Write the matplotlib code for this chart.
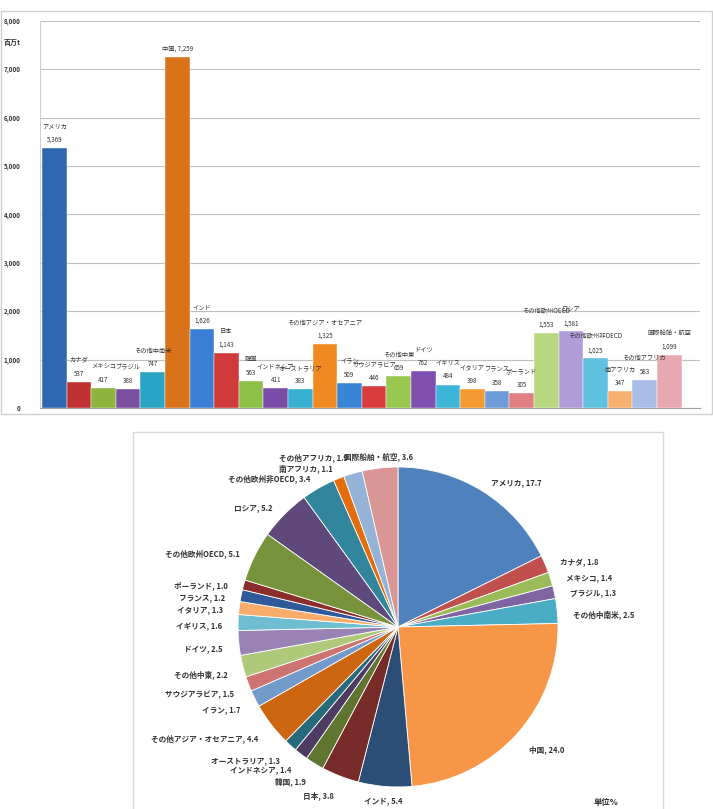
import numpy as np
import matplotlib
matplotlib.use('Agg')
import matplotlib.pyplot as plt
from matplotlib.patches import Rectangle

plt.rcParams['font.family'] = ['Noto Sans CJK JP', 'DejaVu Sans']

# データ（排出量：百万t、構成比：%）
countries = ['アメリカ', 'カナダ', 'メキシコ', 'ブラジル', 'その他中南米', '中国',
             'インド', '日本', '韓国', 'インドネシア', 'オーストラリア', 'その他アジア・オセアニア',
             'イラン', 'サウジアラビア', 'その他中東', 'ドイツ', 'イギリス', 'イタリア',
             'フランス', 'ポーランド', 'その他欧州OECD', 'ロシア', 'その他欧州非OECD',
             '南アフリカ', 'その他アフリカ', '国際船舶・航空']
emissions = [5369, 537, 417, 388, 747, 7259,
             1626, 1143, 563, 411, 383, 1325,
             509, 446, 659, 762, 484, 398,
             358, 305, 1553, 1581, 1025,
             347, 583, 1099]
shares = [17.7, 1.8, 1.4, 1.3, 2.5, 24.0,
          5.4, 3.8, 1.9, 1.4, 1.3, 4.4,
          1.7, 1.5, 2.2, 2.5, 1.6, 1.3,
          1.2, 1.0, 5.1, 5.2, 3.4,
          1.1, 1.9, 3.6]

bar_colors = ['#2f68b0', '#c03232', '#8db43c', '#7a4fa0', '#2aa5c5', '#d9731a',
              '#3a7fd5', '#d03a3a', '#8ec048', '#7a4ca8', '#36afd0', '#f08a20',
              '#3a86d6', '#d83c3c', '#98c850', '#8050b0', '#3db5d8', '#f39a30',
              '#6e9cda', '#e08080', '#b8d880', '#b09cd8', '#60c0e0',
              '#f8b070', '#a8bce8', '#e8a8b0']
pie_colors = ['#4f81bd', '#c0504d', '#9bbb59', '#8064a2', '#4bacc6', '#f79646',
              '#2c4d75', '#772c2a', '#5f7530', '#4d3b62', '#276a7c', '#cc6611',
              '#729aca', '#cd7371', '#afc97a', '#9983b5', '#6fbdd1', '#f9ab6b',
              '#2f5a9a', '#8b2d2a', '#77933c', '#5f497a', '#31859c',
              '#e46c0a', '#95b3d7', '#d99694']

W, H = 713, 809
fig = plt.figure(figsize=(W / 100, H / 100), dpi=100)

# 枠
fig.add_artist(Rectangle((0.001, 1 - 414 / H), 0.998, 403 / H, transform=fig.transFigure,
                         fill=False, edgecolor='#d0d0d0', lw=1))
fig.add_artist(Rectangle((133 / W, -0.01), 530 / W, 377 / H + 0.01, transform=fig.transFigure,
                         fill=False, edgecolor='#d9d9d9', lw=1))

# 棒グラフ
ax = fig.add_axes([40 / W, 1 - 408 / H, 660 / W, (408 - 20.7) / H])
x = np.arange(len(emissions))
bars = ax.bar(x, emissions, width=1.0, align='edge', color=bar_colors,
              edgecolor='white', linewidth=0.3, zorder=3)
ax.set_xlim(-0.08, 26.75)
ax.set_ylim(0, 8000)
ax.set_yticks(range(0, 8001, 1000))
ax.set_yticklabels([f'{v:,}' for v in range(0, 8001, 1000)], fontsize=4.5, color='#333333',
                   fontweight='bold')
ax.tick_params(axis='y', length=0, pad=14)
ax.set_xticks([])
ax.grid(axis='y', color='#bfbfbf', lw=0.8, zorder=0)
for s in ['top', 'right']:
    ax.spines[s].set_visible(False)
ax.spines['left'].set_color('#d0d0d0')
ax.spines['bottom'].set_color('#a0a0a0')

for b, name, v in zip(bars, countries, emissions):
    cx = b.get_x() + b.get_width() / 2
    if name == '中国':
        txt = f'{name}, {v:,}'
    else:
        txt = f'{name}\n{v:,}'
    ax.annotate(txt, (cx, v), xytext=(0, 3), textcoords='offset points',
                ha='center', va='bottom', fontsize=4.5, color='#333333',
                linespacing=1.9)

fig.text(12 / W, 1 - 42 / H, '百万t', fontsize=5, ha='center', va='center',
         color='#333333', fontweight='bold')

# 円グラフ
ax2 = fig.add_axes([(398 - 160) / W, (H - 787) / H, 320 / W, 320 / H])
wedges, _ = ax2.pie(shares, colors=pie_colors, startangle=90, counterclock=False,
                    radius=1.0, wedgeprops=dict(edgecolor='white', linewidth=0.6))
ax2.set_xlim(-1, 1)
ax2.set_ylim(-1, 1)
ax2.set_aspect('equal')
ax2.axis('off')

# ラベル位置（左側は重ならないよう下から順に押し上げる）
labels = []
prev_left = None
for w, name, p in zip(wedges, countries, shares):
    ang = np.deg2rad((w.theta1 + w.theta2) / 2)
    lx, ly = 1.1 * np.cos(ang), 1.1 * np.sin(ang) - 0.03
    ly = max(ly, -1.09)
    if abs(np.cos(ang)) < 0.15:
        ha = 'center'
    elif lx > 0:
        ha = 'left'
    else:
        ha = 'right'
        if prev_left is not None and ly < prev_left + 0.068:
            ly = prev_left + 0.068
        prev_left = ly
    labels.append((lx, ly, ha, f'{name}, {p:.1f}'))

for lx, ly, ha, txt in labels:
    ax2.text(lx, ly, txt, ha=ha, va='center', fontsize=5.5,
             color='#333333', fontweight='bold')

fig.text(606 / W, 1 - 803 / H, '単位%', fontsize=6, ha='center', va='center',
         color='#333333', fontweight='bold')

fig.savefig('out.png', dpi=100)
